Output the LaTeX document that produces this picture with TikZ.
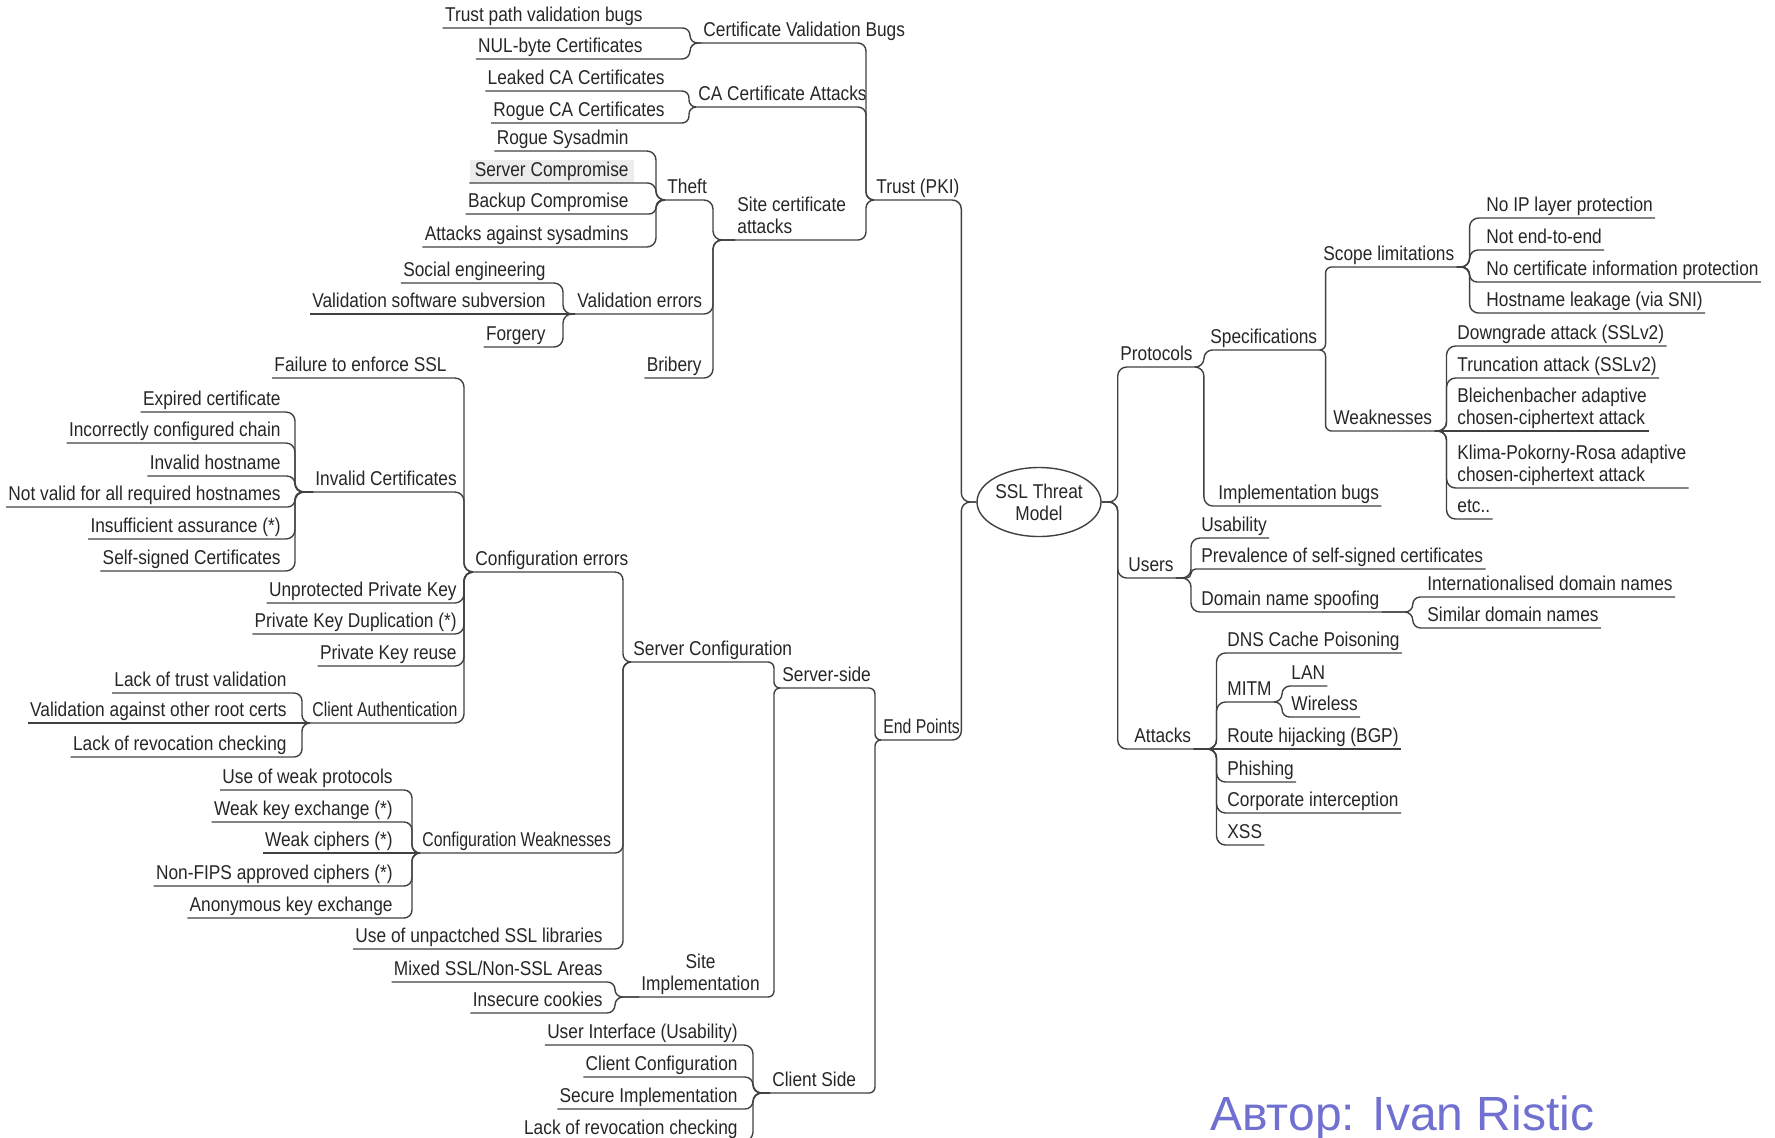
\documentclass[tikz,border=0pt]{standalone}
\usepackage{fontspec}
\setmainfont{Liberation Sans}[FakeStretch=0.865]
\newfontfamily\creditfont{Liberation Sans}
\newfontfamily\narrowfont{Liberation Sans}[FakeStretch=0.79]
\usetikzlibrary{calc,shapes.geometric}

\definecolor{ink}{HTML}{262626}
\definecolor{wire}{HTML}{404040}
\definecolor{credit}{HTML}{7070D0}

\newcommand\mapfont{\fontsize{10pt}{11pt}\selectfont}
\newcommand\ulstrut{\rule[-2.5pt]{0pt}{2.5pt}}

% child to the left of its parent, bus #1 px left of the parent end
\newcommand\lkl[3][9]{%
  \draw[link] let \p1=(#2), \p2=(#3.south west),
    \n1={min(4.5pt,abs(\y2-(\y1))/2,#1*0.5pt)}, \n2={\x1-#1*0.5pt} in
    (\p1) [rounded corners=\n1] -- (\n2,\y1) -- (\n2,\y2) -- (\p2);}
% child to the right of its parent
\newcommand\lkr[3][9]{%
  \draw[link] let \p1=(#2), \p2=(#3.south east),
    \n1={min(4.5pt,abs(\y2-(\y1))/2,#1*0.5pt)}, \n2={\x1+#1*0.5pt} in
    (\p1) [rounded corners=\n1] -- (\n2,\y1) -- (\n2,\y2) -- (\p2);}

\tikzset{
  link/.style={draw=wire, line width=0.7pt},
  txt/.style={inner xsep=1pt, inner ysep=0.5pt, text=ink, font=\mapfont,
    text height=7.6pt, text depth=2.5pt},
  mtxt/.style={inner xsep=1pt, inner ysep=0.5pt, text=ink, font=\mapfont,
    anchor=south west},
  leafl/.style={txt, anchor=south east},
  item/.style={txt, anchor=south west},
  narrow/.style={font=\narrowfont\mapfont},
}

\begin{document}
\begin{tikzpicture}[x=0.5pt,y=-0.5pt]
\useasboundingbox (0,0) rectangle (1775,1137);
\clip (0,0) rectangle (1775,1137);

\node[draw=wire, line width=0.7pt, ellipse, minimum width=62pt, minimum height=34.5pt,
  inner sep=0pt, align=center, font=\mapfont, text=ink] (root) at (1039,502) {SSL Threat\\Model};

% Trust (PKI)
\node[item] (trust) at (874,200) {Trust (PKI)};
\node[item] (cvb) at (701,43) {Certificate Validation Bugs};
\node[leafl] (tpv) at (645,28) {Trust path validation bugs};
\node[leafl] (nul) at (645,59) {NUL-byte Certificates};
\node[item] (caa) at (696,107) {CA Certificate Attacks};
\node[leafl] (lca) at (667,91) {Leaked CA Certificates};
\node[leafl] (rca) at (667,123) {Rogue CA Certificates};
\node[mtxt, align=left] (sca) at (735,240) {Site certificate\\attacks\ulstrut};
\node[item] (theft) at (665,200) {Theft};
\node[leafl] (rsa) at (631,151) {Rogue Sysadmin};
\node[leafl, fill=gray!15, inner xsep=2.5pt] (scp) at (634,183) {Server Compromise};
\node[leafl] (bcp) at (631,214) {Backup Compromise};
\node[leafl] (aas) at (631,247) {Attacks against sysadmins};
\node[item] (valerr) at (575,314) {Validation errors};
\node[leafl] (soc) at (548,283) {Social engineering};
\node[leafl] (vss) at (548,314) {Validation software subversion};
\node[leafl] (forg) at (548,347) {Forgery};
\node[leafl] (brib) at (704,378) {Bribery};

% End Points
\node[item, narrow] (endp) at (881,740) {End Points};
\node[item] (srvside) at (780,688) {Server-side};
\node[item] (srvconf) at (631,662) {Server Configuration};
\node[item] (conferr) at (473,572) {Configuration errors};
\node[leafl] (fail) at (449,378) {Failure to enforce SSL};
\node[item] (invcert) at (313,492) {Invalid Certificates};
\node[leafl] (exp) at (283,412) {Expired certificate};
\node[leafl] (incc) at (283,443) {Incorrectly configured chain};
\node[leafl] (invh) at (283,476) {Invalid hostname};
\node[leafl] (notv) at (283,507) {Not valid for all required hostnames};
\node[leafl] (insa) at (283,539) {Insufficient assurance (*)};
\node[leafl] (ssig) at (283,571) {Self-signed Certificates};
\node[leafl] (unprot) at (459,603) {Unprotected Private Key};
\node[leafl] (pkdup) at (459,634) {Private Key Duplication (*)};
\node[leafl] (pkreuse) at (459,666) {Private Key reuse};
\node[item, narrow] (clauth) at (310,723) {Client Authentication};
\node[leafl] (ltv) at (289,693) {Lack of trust validation};
\node[leafl] (vao) at (289,723) {Validation against other root certs};
\node[leafl] (lrc) at (289,757) {Lack of revocation checking};
\node[item, narrow] (confweak) at (420,853) {Configuration Weaknesses};
\node[leafl] (uwp) at (395,790) {Use of weak protocols};
\node[leafl] (wke) at (395,822) {Weak key exchange (*)};
\node[leafl] (wci) at (395,853) {Weak ciphers (*)};
\node[leafl] (nfips) at (395,886) {Non-FIPS approved ciphers (*)};
\node[leafl] (anon) at (395,918) {Anonymous key exchange};
\node[leafl] (unpatch) at (605,949) {Use of unpactched SSL libraries};
\node[mtxt, align=center] (siteimpl) at (639,997) {Site\\Implementation\ulstrut};
\node[leafl] (mixed) at (605,982) {Mixed SSL/Non-SSL Areas};
\node[leafl] (icook) at (605,1013) {Insecure cookies};
\node[item] (clside) at (770,1093) {Client Side};
\node[leafl] (ui) at (740,1045) {User Interface (Usability)};
\node[leafl] (ccfg) at (740,1077) {Client Configuration};
\node[leafl] (simp) at (740,1109) {Secure Implementation};
\node[leafl] (lrc2) at (740,1141) {Lack of revocation checking};

% Protocols
\node[item] (protocols) at (1118,367) {Protocols};
\node[item] (specs) at (1208,350) {Specifications};
\node[item] (scope) at (1321,267) {Scope limitations};
\node[item] (noip) at (1484,218) {No IP layer protection};
\node[item] (e2e) at (1484,250) {Not end-to-end};
\node[item] (ncip) at (1484,282) {No certificate information protection};
\node[item] (hnl) at (1484,313) {Hostname leakage (via SNI)};
\node[item] (weak) at (1331,431) {Weaknesses};
\node[item] (dgr) at (1455,346) {Downgrade attack (SSLv2)};
\node[item] (trunc) at (1455,378) {Truncation attack (SSLv2)};
\node[mtxt, align=left] (bleich) at (1455,431) {Bleichenbacher adaptive\\chosen-ciphertext attack\ulstrut};
\node[mtxt, align=left] (klima) at (1455,488) {Klima-Pokorny-Rosa adaptive\\chosen-ciphertext attack\ulstrut};
\node[item] (etc) at (1455,519) {etc..};
\node[item] (implb) at (1216,506) {Implementation bugs};

% Users
\node[item] (users) at (1126,578) {Users};
\node[item] (usab) at (1199,538) {Usability};
\node[item] (prev) at (1199,569) {Prevalence of self-signed certificates};
\node[item] (dns) at (1199,612) {Domain name spoofing};
\node[item] (idn) at (1425,597) {Internationalised domain names};
\node[item] (sdn) at (1425,628) {Similar domain names};

% Attacks
\node[item] (attacks) at (1132,749) {Attacks};
\node[item] (dnsc) at (1225,653) {DNS Cache Poisoning};
\node[item] (mitm) at (1225,702) {MITM};
\node[item] (lan) at (1289,686) {LAN};
\node[item] (wless) at (1289,717) {Wireless};
\node[item] (rhj) at (1225,749) {Route hijacking (BGP)};
\node[item] (phish) at (1225,782) {Phishing};
\node[item] (corp) at (1225,813) {Corporate interception};
\node[item] (xss) at (1225,845) {XSS};

\node[anchor=base west, inner sep=0pt, text=credit,
  font=\creditfont\fontsize{24pt}{28pt}\selectfont] (credit) at (1210,1130) {Автор: Ivan Ristic};

% left half
\lkl[15]{root.west}{trust}
\lkl[15]{root.west}{endp}
\foreach \c in {cvb,caa,sca} {\lkl[8]{trust.south west}{\c}}
\foreach \c in {tpv,nul} {\lkl[11]{cvb.south west}{\c}}
\foreach \c in {lca,rca} {\lkl[7]{caa.south west}{\c}}
\foreach \c in {theft,valerr,brib} {\lkl[22]{sca.south west}{\c}}
\foreach \c in {rsa,scp,bcp,aas} {\lkl[9]{theft.south west}{\c}}
\foreach \c in {soc,forg} {\lkl[12]{valerr.south west}{\c}}
\draw[link] (valerr.south west) -- (vss.south west);
\foreach \c in {srvside,clside} {\lkl[6]{endp.south west}{\c}}
\foreach \c in {srvconf,siteimpl} {\lkl[6]{srvside.south west}{\c}}
\foreach \c in {conferr,confweak,unpatch} {\lkl[8]{srvconf.south west}{\c}}
\foreach \c in {fail,invcert,unprot,pkdup,pkreuse,clauth} {\lkl[9]{conferr.south west}{\c}}
\foreach \c in {exp,incc,invh,notv,insa,ssig} {\lkl[18]{invcert.south west}{\c}}
\foreach \c in {ltv,lrc} {\lkl[8]{clauth.south west}{\c}}
\draw[link] (clauth.south west) -- (vao.south west);
\foreach \c in {uwp,wke,nfips,anon} {\lkl[8]{confweak.south west}{\c}}
\draw[link] (confweak.south west) -- (wci.south west);
\foreach \c in {mixed,icook} {\lkl[24]{siteimpl.south west}{\c}}
\foreach \c in {ui,ccfg,simp,lrc2} {\lkl[17]{clside.south west}{\c}}

% right half
\foreach \c in {protocols,users,attacks} {\lkr[16]{root.east}{\c}}
\foreach \c in {specs,implb} {\lkr[9]{protocols.south east}{\c}}
\foreach \c in {scope,weak} {\lkr[6]{specs.south east}{\c}}
\foreach \c in {noip,e2e,ncip,hnl} {\lkr[13]{scope.south east}{\c}}
\foreach \c in {dgr,trunc,klima,etc} {\lkr[12]{weak.south east}{\c}}
\draw[link] (weak.south east) -- (bleich.south east);
\foreach \c in {usab,prev,dns} {\lkr[15]{users.south east}{\c}}
\foreach \c in {idn,sdn} {\lkr[31]{dns.south east}{\c}}
\foreach \c in {dnsc,mitm,phish,corp,xss} {\lkr[23]{attacks.south east}{\c}}
\draw[link] (attacks.south east) -- (rhj.south east);
\foreach \c in {lan,wless} {\lkr[8]{mitm.south east}{\c}}
\end{tikzpicture}
\end{document}
